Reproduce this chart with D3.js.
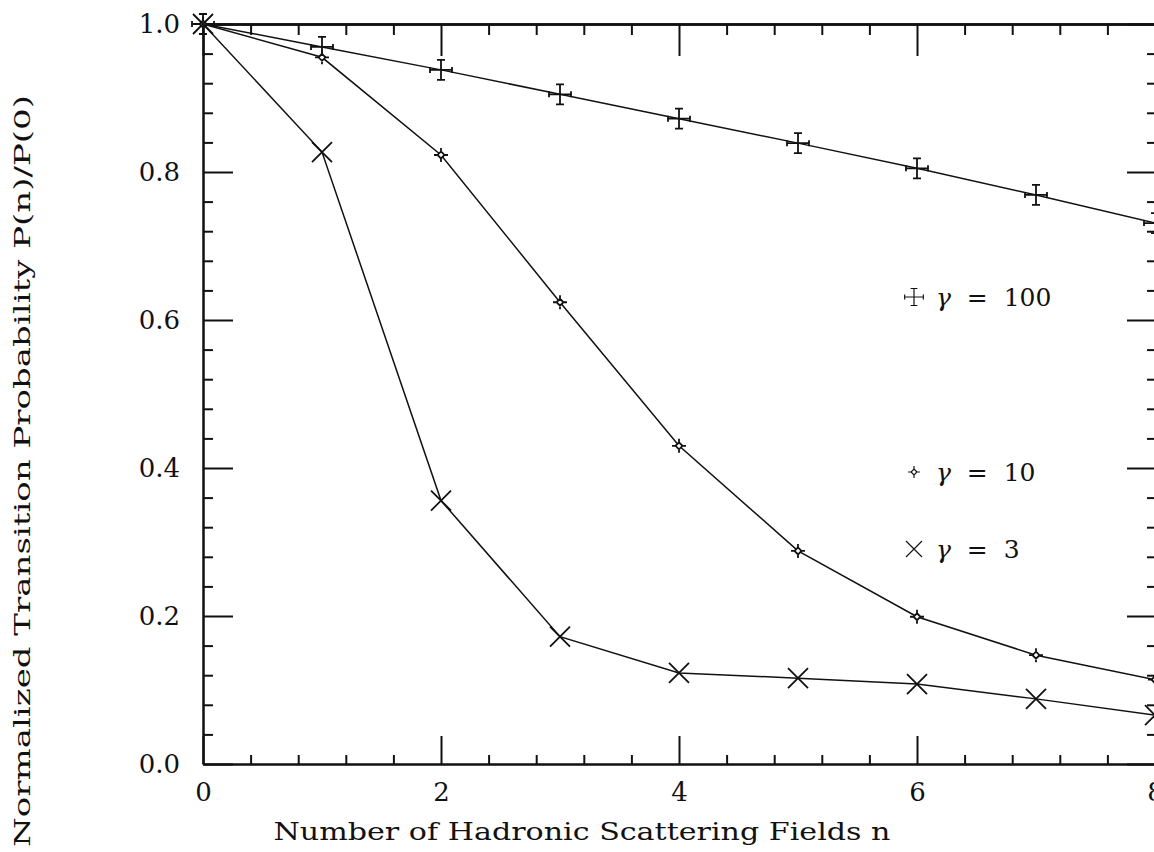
<!DOCTYPE html>
<html>
<head>
<meta charset="utf-8">
<script src="https://cdn.jsdelivr.net/npm/d3@7"></script>
<style>
  html, body { margin: 0; padding: 0; background: #fff; }
  svg { display: block; }
  text { font-family: "DejaVu Serif", "Liberation Serif", serif; fill: #111; }
</style>
</head>
<body>
<svg id="chart" width="1154" height="852"></svg>
<script>
// number of scattering fields
const nValues = [0, 1, 2, 3, 4, 5, 6, 7, 8];
// P(n)/P(0) for each gamma
const gamma100 = [1.0, 0.969, 0.938, 0.905, 0.872, 0.839, 0.805, 0.769, 0.731];
const gamma10 = [1.0, 0.955, 0.823, 0.624, 0.430, 0.288, 0.199, 0.147, 0.114];
const gamma3 = [1.0, 0.827, 0.356, 0.172, 0.123, 0.116, 0.108, 0.088, 0.066];
const xMajorTicks = [0, 2, 4, 6, 8];
const yMajorTicks = [0, 0.2, 0.4, 0.6, 0.8, 1.0];
const legendLabels = ["100", "10", "3"];

const svg = d3.select("#chart");
const margin = { top: 24, right: -1, bottom: 88, left: 203 };
const width = 1154, height = 852;

const x = d3.scaleLinear().domain([0, 8]).range([margin.left, width - margin.right]);
const y = d3.scaleLinear().domain([0, 1]).range([height - margin.bottom, margin.top]);

const xMinor = d3.range(0, 8.001, 0.4).filter(v => Math.abs(v / 2 - Math.round(v / 2)) > 1e-6);
const yMinor = d3.range(0, 1.001, 0.04).filter(v => Math.abs(v / 0.2 - Math.round(v / 0.2)) > 1e-6);

// custom marker shapes
const errCross = {
  draw(ctx, size) {
    const h = 10, w = 11, c = 3, cw = 4;
    ctx.moveTo(0, -h); ctx.lineTo(0, h);
    ctx.moveTo(-cw, -h); ctx.lineTo(cw, -h);
    ctx.moveTo(-cw, h); ctx.lineTo(cw, h);
    ctx.moveTo(-w, 0); ctx.lineTo(w, 0);
    ctx.moveTo(-w, -c); ctx.lineTo(-w, c);
    ctx.moveTo(w, -c); ctx.lineTo(w, c);
  }
};
const spikeDiamond = {
  draw(ctx, size) {
    const d = 3.5, s = 7;
    ctx.moveTo(0, -d); ctx.lineTo(d, 0); ctx.lineTo(0, d); ctx.lineTo(-d, 0); ctx.closePath();
    ctx.moveTo(0, -s); ctx.lineTo(0, -d);
    ctx.moveTo(0, d); ctx.lineTo(0, s);
    ctx.moveTo(-s, 0); ctx.lineTo(-d, 0);
    ctx.moveTo(d, 0); ctx.lineTo(s, 0);
  }
};
const xMark = {
  draw(ctx, size) {
    const r = 10;
    ctx.moveTo(-r, -r); ctx.lineTo(r, r);
    ctx.moveTo(-r, r); ctx.lineTo(r, -r);
  }
};

const series = [
  { values: gamma100, symbol: errCross, label: legendLabels[0], ly: 297 },
  { values: gamma10, symbol: spikeDiamond, label: legendLabels[1], ly: 472 },
  { values: gamma3, symbol: xMark, label: legendLabels[2], ly: 549 },
];

function styleAxis(g, w) {
  g.selectAll(".domain").attr("stroke", "#111").attr("stroke-width", w);
  g.selectAll(".tick line").attr("stroke", "#111").attr("stroke-width", 2);
}
function styleLabels(g) {
  g.selectAll(".tick text")
    .attr("fill", "#111")
    .attr("font-size", 26)
    .attr("font-family", "DejaVu Serif");
}

// bottom axis
svg.append("g")
  .attr("transform", `translate(0,${y(0)})`)
  .call(d3.axisBottom(x).tickValues(xMinor).tickSizeInner(-9).tickSizeOuter(0).tickFormat(""))
  .call(g => styleAxis(g, 2));
svg.append("g")
  .attr("transform", `translate(0,${y(0)})`)
  .call(d3.axisBottom(x).tickValues(xMajorTicks).tickSizeInner(-28).tickSizeOuter(0).tickPadding(19).tickFormat(d3.format("d")))
  .call(g => styleAxis(g, 2))
  .call(styleLabels);

// top axis
svg.append("g")
  .attr("transform", `translate(0,${y(1)})`)
  .call(d3.axisTop(x).tickValues(xMinor).tickSizeInner(-11).tickSizeOuter(0).tickFormat(""))
  .call(g => styleAxis(g, 2.5));
svg.append("g")
  .attr("transform", `translate(0,${y(1)})`)
  .call(d3.axisTop(x).tickValues(xMajorTicks).tickSizeInner(-32).tickSizeOuter(0).tickFormat(""))
  .call(g => styleAxis(g, 2.5));

// left axis
svg.append("g")
  .attr("transform", `translate(${x(0)},0)`)
  .call(d3.axisLeft(y).tickValues(yMinor).tickSizeInner(-10).tickSizeOuter(0).tickFormat(""))
  .call(g => styleAxis(g, 2));
svg.append("g")
  .attr("transform", `translate(${x(0)},0)`)
  .call(d3.axisLeft(y).tickValues(yMajorTicks).tickSizeInner(-30).tickSizeOuter(0).tickPadding(23).tickFormat(d3.format(".1f")))
  .call(g => styleAxis(g, 2))
  .call(styleLabels);

// right axis (sits just outside the picture)
svg.append("g")
  .attr("transform", `translate(${x(8)},0)`)
  .call(d3.axisRight(y).tickValues(yMinor).tickSizeInner(-8).tickSizeOuter(0).tickFormat(""))
  .call(g => styleAxis(g, 2));
svg.append("g")
  .attr("transform", `translate(${x(8)},0)`)
  .call(d3.axisRight(y).tickValues(yMajorTicks).tickSizeInner(-28).tickSizeOuter(0).tickFormat(""))
  .call(g => styleAxis(g, 2));

// series
const line = d3.line().x((d, i) => x(nValues[i])).y(d => y(d));
const sym = d3.symbol();

series.forEach(s => {
  svg.append("path")
    .datum(s.values)
    .attr("fill", "none")
    .attr("stroke", "#111")
    .attr("stroke-width", 1.5)
    .attr("d", line);

  svg.selectAll(null)
    .data(s.values)
    .enter()
    .append("path")
    .attr("transform", (d, i) => `translate(${x(nValues[i])},${y(d)})`)
    .attr("d", sym.type(s.symbol))
    .attr("fill", "#fff")
    .attr("stroke", "#111")
    .attr("stroke-width", 1.8);

  // legend entry
  const lg = svg.append("g").attr("transform", `translate(914,${s.ly})`);
  lg.append("path")
    .attr("d", sym.type(s.symbol))
    .attr("transform", s.symbol === xMark ? "scale(0.8)" : "scale(0.85)")
    .attr("fill", "#fff")
    .attr("stroke", "#111")
    .attr("stroke-width", 1.4);
  const t = lg.append("text")
    .attr("x", 22)
    .attr("dy", "0.35em")
    .attr("font-size", 25)
    .attr("xml:space", "preserve");
  t.append("tspan").attr("font-style", "italic").text("γ");
  t.append("tspan").text("  =  " + s.label);
});

// axis titles
svg.append("text")
  .attr("x", 582)
  .attr("y", 840)
  .attr("text-anchor", "middle")
  .attr("font-size", 25)
  .attr("textLength", 617)
  .attr("lengthAdjust", "spacingAndGlyphs")
  .text("Number of Hadronic Scattering Fields n");

svg.append("text")
  .attr("transform", "translate(30,471) rotate(-90)")
  .attr("text-anchor", "middle")
  .attr("font-size", 23)
  .attr("textLength", 752)
  .attr("lengthAdjust", "spacingAndGlyphs")
  .text("Normalized Transition Probability P(n)/P(0)");
</script>
</body>
</html>
